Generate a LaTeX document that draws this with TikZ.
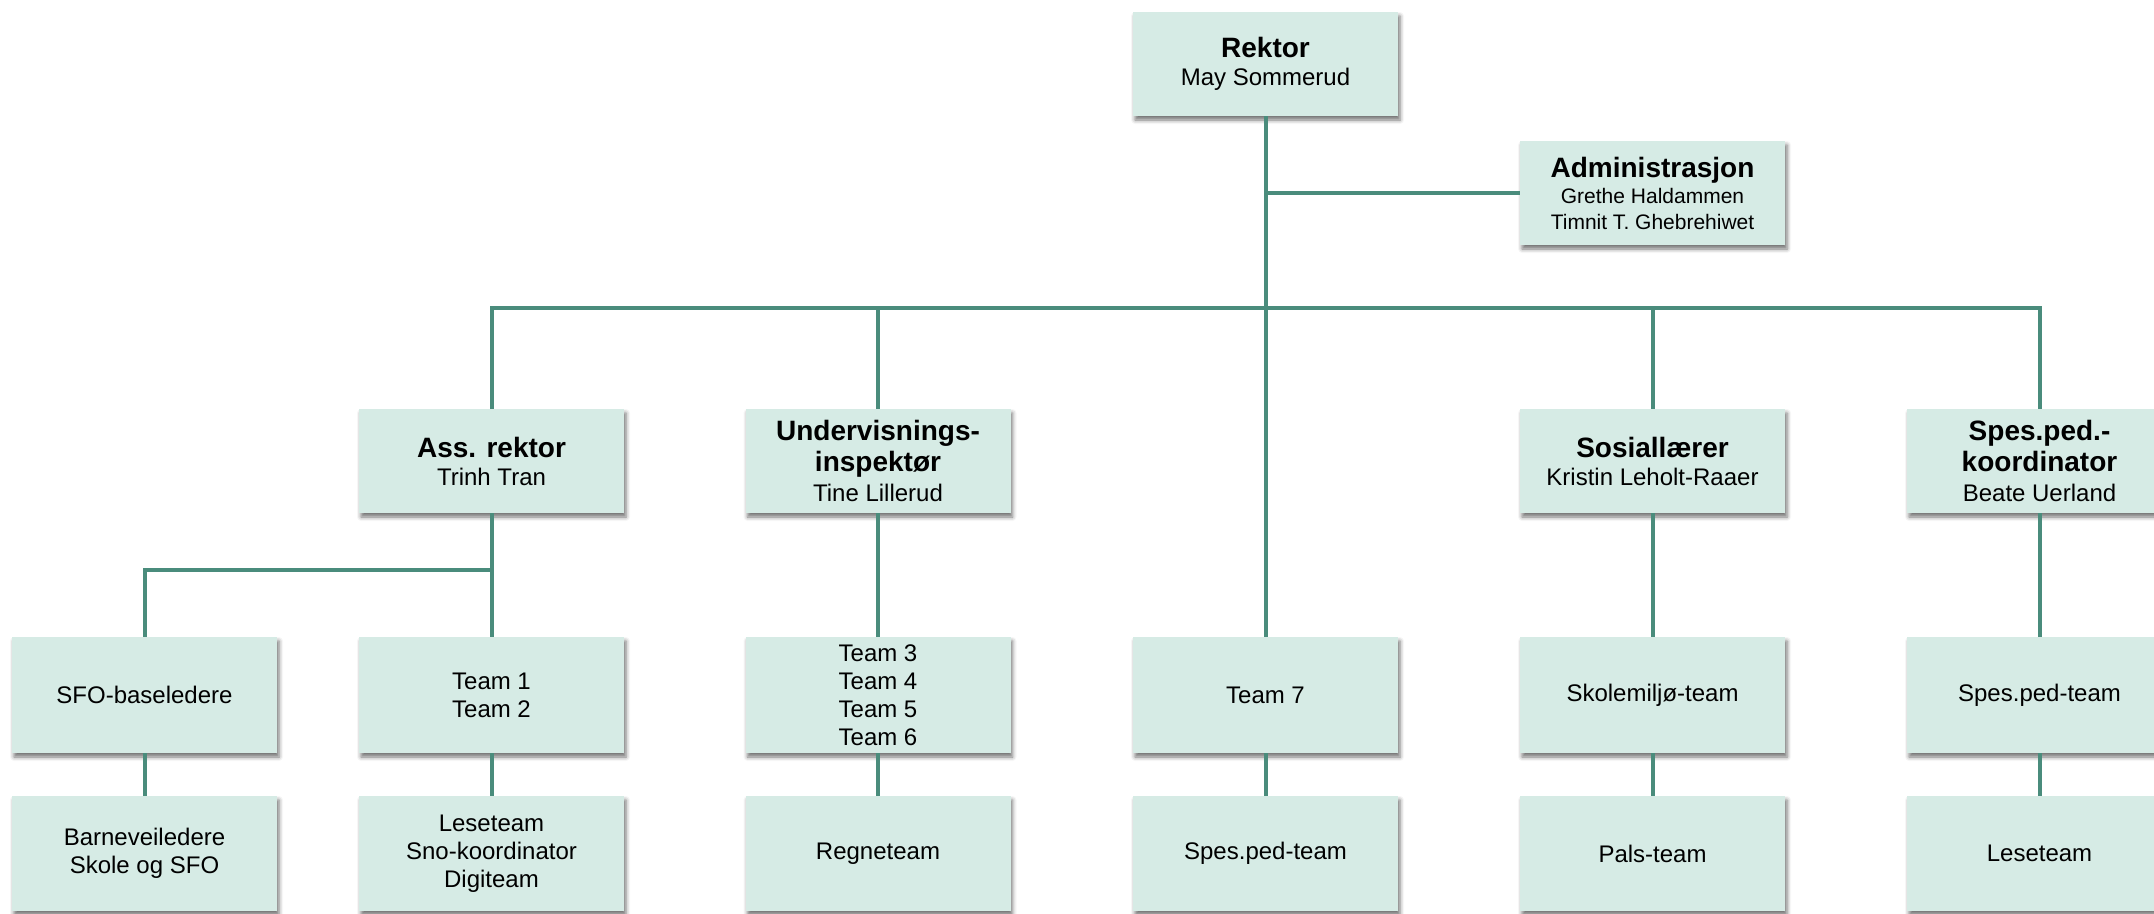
\documentclass[tikz,border=0pt]{standalone}
\usepackage{fontspec}
\setmainfont{Liberation Sans}
\usetikzlibrary{shadows.blur}
\definecolor{boxfill}{RGB}{214,235,229}
\definecolor{linecol}{RGB}{74,140,124}
\newcommand\hd[1]{{\fontsize{28}{31}\selectfont\bfseries #1}}
\begin{document}
\begin{tikzpicture}[x=1pt,y=-1pt,
  box/.style={rectangle, fill=boxfill, minimum width=265pt, minimum height=104pt,
    inner sep=0pt, align=center, font=\fontsize{24}{28}\selectfont,
    blur shadow={shadow xshift=2pt, shadow yshift=-4pt, shadow blur radius=4pt, shadow opacity=55}},
  tall/.style={box, minimum height=116pt},
  low/.style={box, minimum height=115pt},
  conn/.style={draw=linecol, line width=4pt, line join=miter}]
\useasboundingbox (0,0) rectangle (2154,913);

% level 1
\node[box] (rektor) at (1265.5,64) {\hd{Rektor}\\May Sommerud};
\node[box, font=\fontsize{21}{26}\selectfont] (admin) at (1652.5,193)
  {\hd{Administrasjon}\\Grethe Haldammen\\Timnit T. Ghebrehiwet};

% level 2
\node[box] (ass) at (491.5,461) {\hd{Ass. rektor}\\Trinh Tran};
\node[box] (und) at (878,461) {\hd{Undervisnings-}\\[3pt]\hd{inspektør}\\[2pt]Tine Lillerud};
\node[box] (sos) at (1652.5,461) {\hd{Sosiallærer}\\Kristin Leholt-Raaer};
\node[box] (spk) at (2039.5,461) {\hd{Spes.ped.-}\\[3pt]\hd{koordinator}\\[2pt]Beate Uerland};

% level 3
\node[tall] (sfo) at (144.5,695) {SFO-baseledere};
\node[tall] (t12) at (491.5,695) {Team 1\\Team 2};
\node[tall] (t36) at (878,695) {Team 3\\Team 4\\Team 5\\Team 6};
\node[tall] (t7) at (1265.5,695) {Team 7};
\node[tall] (skm) at (1652.5,695) {Skolemiljø-team};
\node[tall] (spt) at (2039.5,695) {Spes.ped-team};

% level 4
\node[low] (bsf) at (144.5,853.5) {Barneveiledere\\Skole og SFO};
\node[low] (lst) at (491.5,853.5) {Leseteam\\Sno-koordinator\\Digiteam};
\node[low] (reg) at (878,853.5) {Regneteam};
\node[low] (spt2) at (1265.5,853.5) {Spes.ped-team};
\node[low] (pal) at (1652.5,853.5) {Pals-team};
\node[low] (les) at (2039.5,853.5) {Leseteam};

% junctions
\coordinate (adminJ) at (1265.5,193);
\coordinate (busA) at (491.5,308);
\coordinate (busU) at (878,308);
\coordinate (busS) at (1652.5,308);
\coordinate (busP) at (2039.5,308);
\coordinate (subA) at (491.5,570);
\coordinate (subS) at (144.5,570);

% connectors
\draw[conn] (rektor.south) -- (t7.north);
\draw[conn] (adminJ) -- (admin.west);
\draw[conn] (ass.north) -- (busA) -- (busP) -- (spk.north);
\draw[conn] (busU) -- (und.north);
\draw[conn] (busS) -- (sos.north);
\draw[conn] (ass.south) -- (t12.north);
\draw[conn] (subA) -- (subS) -- (sfo.north);
\draw[conn] (und.south) -- (t36.north);
\draw[conn] (sos.south) -- (skm.north);
\draw[conn] (spk.south) -- (spt.north);
\draw[conn] (sfo.south) -- (bsf.north);
\draw[conn] (t12.south) -- (lst.north);
\draw[conn] (t36.south) -- (reg.north);
\draw[conn] (t7.south) -- (spt2.north);
\draw[conn] (skm.south) -- (pal.north);
\draw[conn] (spt.south) -- (les.north);
\end{tikzpicture}
\end{document}
